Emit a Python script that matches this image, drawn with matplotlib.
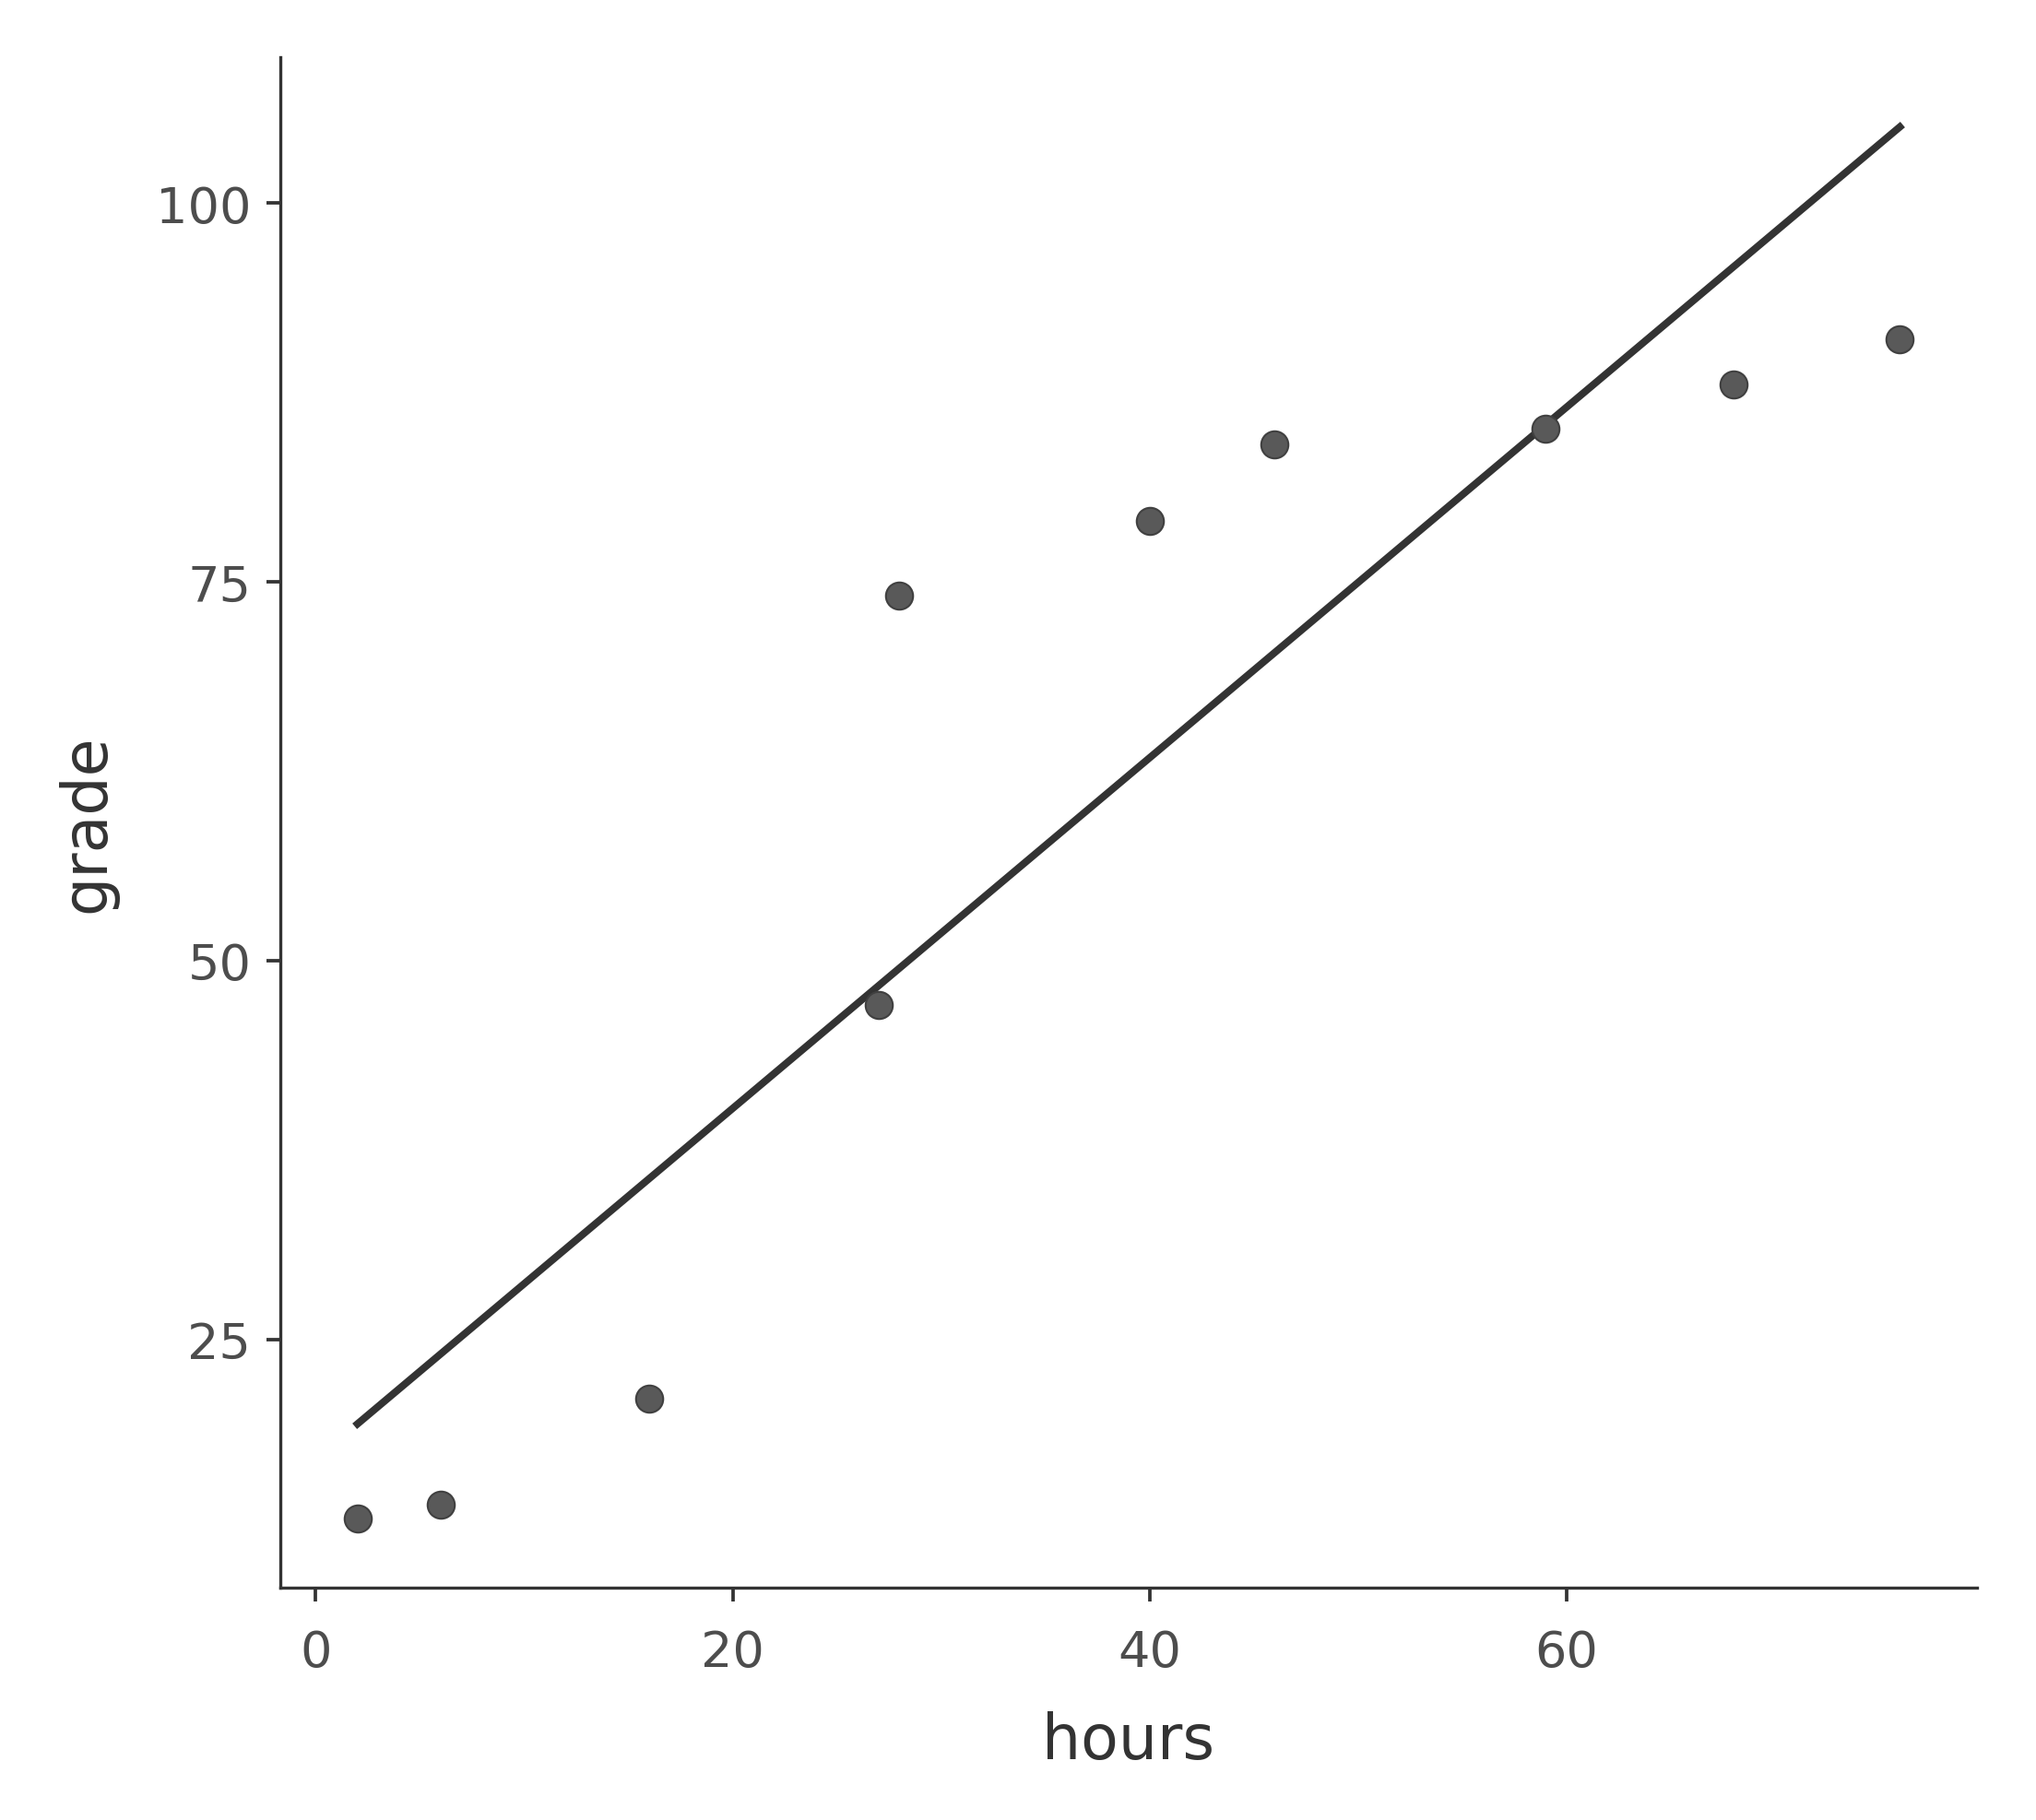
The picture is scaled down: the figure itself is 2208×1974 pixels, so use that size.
import numpy as np
import matplotlib
matplotlib.use("Agg")
import matplotlib.pyplot as plt

# study hours vs grade
hours = [2, 6, 16, 27, 28, 40, 46, 59, 68, 76]
grade = [13.2, 14.1, 21.1, 47.1, 74.1, 79.0, 84.1, 85.1, 88.0, 91.0]

x_ticks = [0, 20, 40, 60]
y_ticks = [25, 50, 75, 100]

# least squares fit line (like geom_smooth(method="lm", se=False))
slope, intercept = np.polyfit(hours, grade, 1)
fit_x = np.array([min(hours), max(hours)])
fit_y = slope * fit_x + intercept

text_col = "#333333"

fig = plt.figure(figsize=(7.36, 6.5833), dpi=300)
ax = fig.add_axes([0.1377, 0.1275, 0.8333, 0.8405])

ax.scatter(hours, grade, s=50, color="#595959", edgecolor="#404040",
           linewidth=0.5, zorder=3)
ax.plot(fit_x, fit_y, color="#333333", linewidth=1.9, zorder=2)

ax.margins(0.05)
ax.set_xticks(x_ticks)
ax.set_yticks(y_ticks)

for side in ["top", "right"]:
    ax.spines[side].set_visible(False)
for side in ["left", "bottom"]:
    ax.spines[side].set_color("#333333")
    ax.spines[side].set_linewidth(0.8)

ax.tick_params(direction="out", length=3.6, width=0.9, color="#333333",
               labelsize=13, labelcolor="#4d4d4d")
ax.tick_params(axis="x", pad=6.8)
ax.tick_params(axis="y", pad=4)

ax.set_xlabel("hours", fontsize=16, color=text_col, labelpad=9)
ax.set_ylabel("grade", fontsize=16, color=text_col, labelpad=10)

fig.savefig("out.png", dpi=300)
